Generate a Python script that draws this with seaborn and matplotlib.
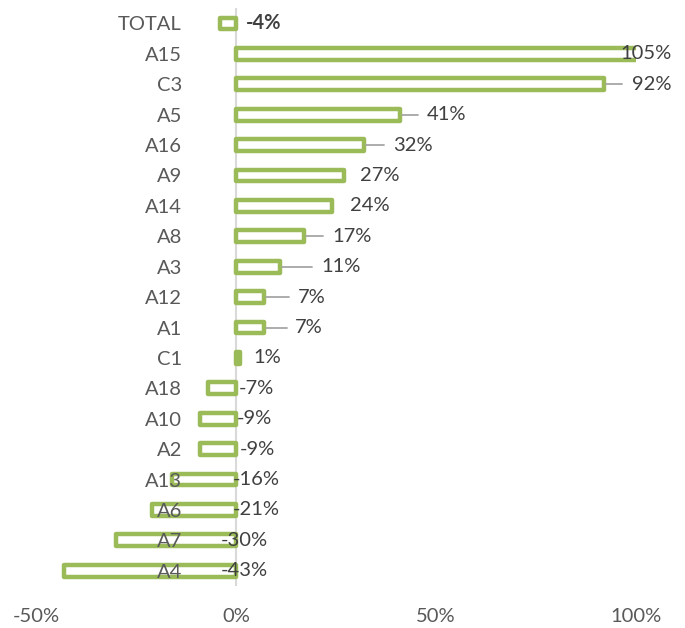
import pandas as pd
import seaborn as sns
import matplotlib.pyplot as plt

sites = ["TOTAL", "A15", "C3", "A5", "A16", "A9", "A14", "A8", "A3", "A12",
         "A1", "C1", "A18", "A10", "A2", "A13", "A6", "A7", "A4"]
change = [-4, 105, 92, 41, 32, 27, 24, 17, 11, 7, 7, 1, -7, -9, -9, -16, -21, -30, -43]

# where excel left the data labels (left edge, in % units) and the leader line ends
label_x = [2.5, 96, 99, 47.6, 39.3, 31, 28.5, 24.2, 21.4, 15.5, 14.8, 4.3,
           0.8, 0.3, 1, -0.8, -0.8, -3.8, -3.8]
leader_end = [None, None, 96.5, 45.5, 37, None, None, 21.8, 19, 13.3, 12.7, None,
              None, None, None, None, None, None, None]

df = pd.DataFrame({"site": sites, "change": change})

sns.set_style("white")
plt.rcParams["font.family"] = ["Lato", "DejaVu Sans"]

fig = plt.figure(figsize=(6.85, 6.28), dpi=100)
ax = fig.add_axes([36 / 685, 0.0669, 600 / 685, 0.920])

ax.axvline(0, color="#d9d9d9", lw=1.5, zorder=0)

sns.barplot(data=df, x="change", y="site", orient="h", color="#9bbb59",
            fill=False, linewidth=3.2, width=0.39, ax=ax)
for p in ax.patches:
    p.set_edgecolor("#9bbb59")
    p.set_joinstyle("round")

for i, (v, lx, le) in enumerate(zip(change, label_x, leader_end)):
    if le is not None:
        ax.plot([v + 0.6, le], [i, i], color="#a6a6a6", lw=1.3, zorder=1)
    ax.text(lx, i, f"{v}%", va="center", ha="left", fontsize=14.5,
            color="#404040", fontweight="bold" if i == 0 else "normal", zorder=4)

ax.set_xlim(-50, 100)
ax.set_ylim(len(sites) - 0.5, -0.5)
ax.set_xticks([-50, 0, 50, 100])
ax.set_xticklabels(["-50%", "0%", "50%", "100%"])
ax.set_xlabel("")
ax.set_ylabel("")
ax.set_axisbelow(False)
ax.tick_params(axis="x", length=0, pad=16, labelsize=14.5, labelcolor="#595959")
ax.tick_params(axis="y", length=0, pad=-105, labelsize=14.5, labelcolor="#595959")
for s in ax.spines.values():
    s.set_visible(False)

fig.savefig("out.png", dpi=100)
